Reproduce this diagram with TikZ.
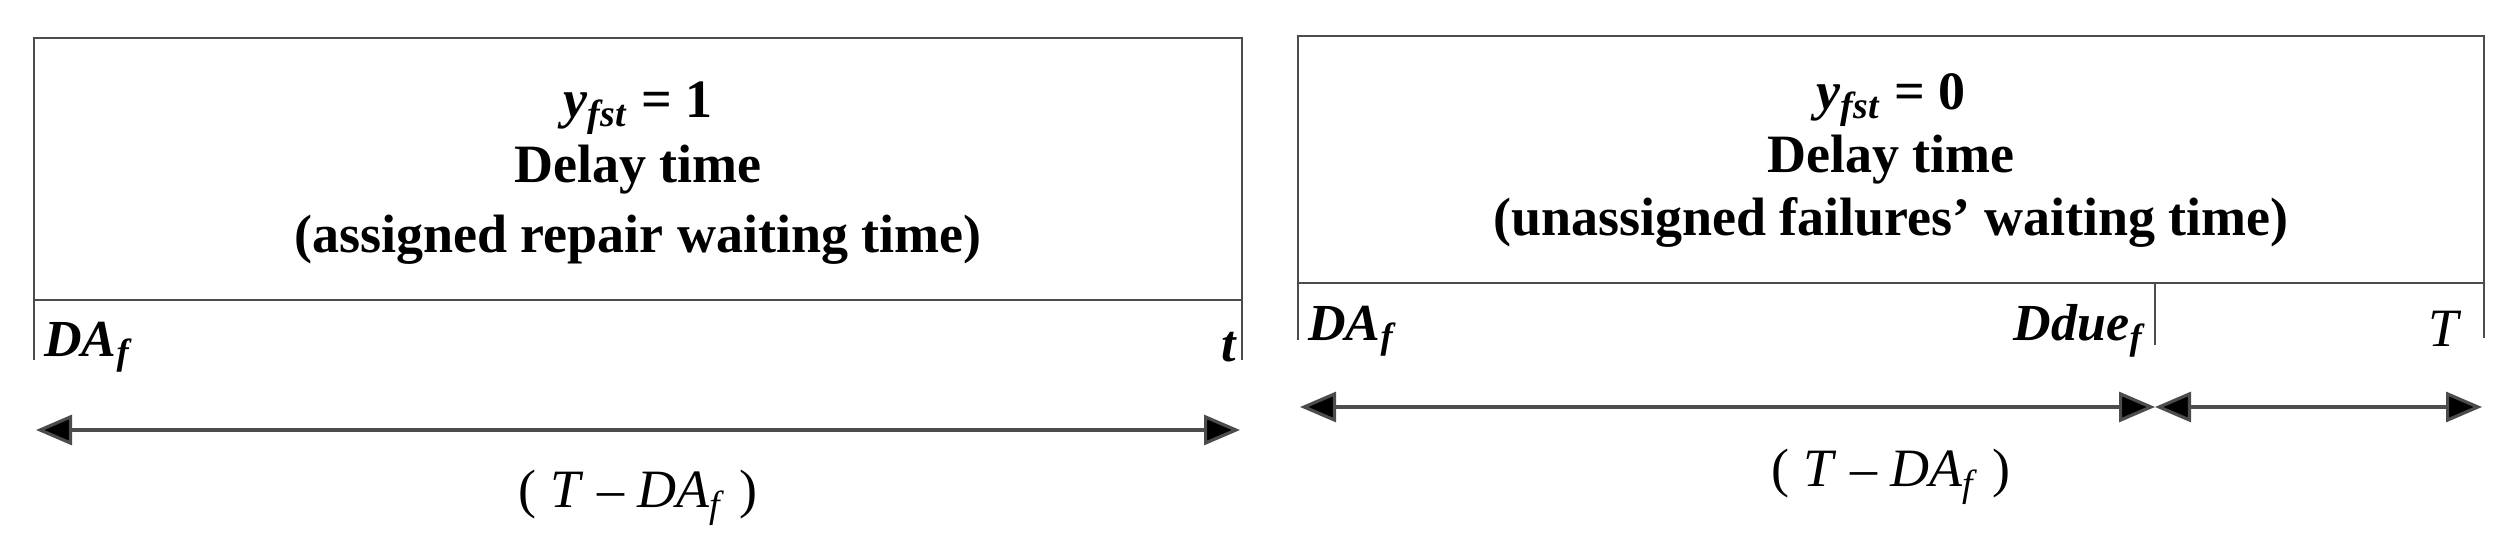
\documentclass[tikz,border=0pt]{standalone}
\usepackage{fontspec}
\setmainfont{Liberation Serif}
\usetikzlibrary{arrows.meta}
\begin{document}
\begin{tikzpicture}[x=0.5pt,y=-0.5pt,
  box/.style={draw=black!70,line width=1.2pt},
  tick/.style={draw=black!70,line width=1pt},
  dim/.style={draw=black!70,line width=1.6pt,{Triangle[length=18pt,width=15pt,fill=black]}-{Triangle[length=18pt,width=15pt,fill=black]}},
  title/.style={font=\fontsize{27}{32}\selectfont\bfseries,align=center},
  lab/.style={font=\fontsize{26}{30}\selectfont\bfseries\itshape,inner sep=0pt},
  formula/.style={font=\fontsize{27}{32}\selectfont}]
\useasboundingbox (0,0) rectangle (2516,555);
% left panel
\draw[box] (34,300) -- (34,38) -- (1242,38) -- (1242,300) -- cycle;
\draw[tick] (34,300) -- (34,360);
\draw[tick] (1242,300) -- (1242,360);
\node[title] (l1) at (638,108) {\textit{y}\textsubscript{\textit{fst}} = 1};
\node[title] (l2) at (638,170) {Delay time};
\node[title] (l3) at (638,240) {(assigned repair waiting time)};
\node[lab,anchor=west] (ldaf) at (44,347) {DA\textsubscript{f}};
\node[lab,anchor=east] (lt) at (1236,347) {t};
\coordinate (la) at (36,430);
\coordinate (lb) at (1240,430);
\draw[dim] (la) -- (lb);
\node[formula] (lf) at (638,498) {( \textit{T} – \textit{DA}\textsubscript{\textit{f}} )};
% right panel
\draw[box] (1298,283) -- (1298,36) -- (2484,36) -- (2484,283) -- cycle;
\draw[tick] (1298,283) -- (1298,340);
\draw[tick] (2484,283) -- (2484,338);
\draw[tick] (2155,283) -- (2155,345);
\node[title] (r1) at (1891,100) {\textit{y}\textsubscript{\textit{fst}} = 0};
\node[title] (r2) at (1891,160) {Delay time};
\node[title] (r3) at (1891,222) {(unassigned failures’ waiting time)};
\node[lab,anchor=west] (rdaf) at (1308,331) {DA\textsubscript{f}};
\node[lab,anchor=east] (rdd) at (2143,331) {Ddue\textsubscript{f}};
\node[formula,font=\fontsize{27}{32}\selectfont\itshape] (rT) at (2443,329) {T};
\coordinate (ra) at (1300,407);
\coordinate (rm) at (2155,407);
\coordinate (rb) at (2482,407);
\draw[dim] (ra) -- (rm);
\draw[dim] (rm) -- (rb);
\node[formula] (rf) at (1891,477) {( \textit{T} – \textit{DA}\textsubscript{\textit{f}} )};
\end{tikzpicture}
\end{document}
